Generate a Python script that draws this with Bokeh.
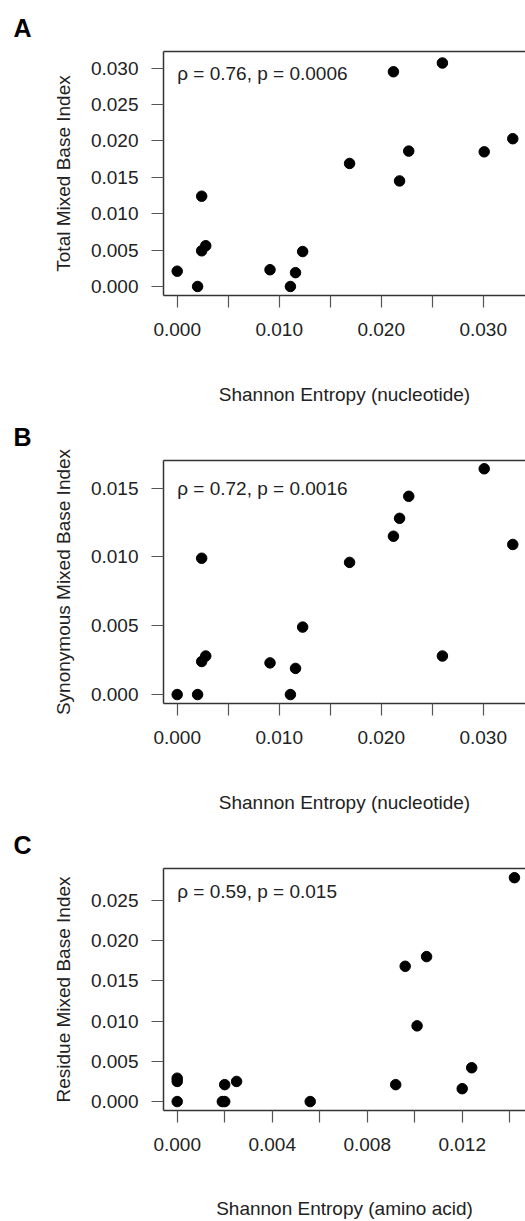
from bokeh.plotting import figure
from bokeh.layouts import column
from bokeh.models import (FixedTicker, PrintfTickFormatter, LinearAxis, Label,
                          Range1d, ColumnDataSource)
from bokeh.embed import file_html
from bokeh.resources import INLINE

# ---------------- data ----------------
entropy_nt = [0.0000, 0.0020, 0.0024, 0.0024, 0.0028, 0.0091, 0.0111, 0.0116,
              0.0123, 0.0169, 0.0212, 0.0218, 0.0227, 0.0260, 0.0301, 0.0329]
total_mbi = [0.0021, 0.0000, 0.0124, 0.0049, 0.0056, 0.0023, 0.0000, 0.0019,
             0.0048, 0.0169, 0.0295, 0.0145, 0.0186, 0.0307, 0.0185, 0.0203]
synon_mbi = [0.0000, 0.0000, 0.0099, 0.0024, 0.0028, 0.0023, 0.0000, 0.0019,
             0.0049, 0.0096, 0.0115, 0.0128, 0.0144, 0.0028, 0.0164, 0.0109]

entropy_aa = [0.0000, 0.0000, 0.0000, 0.0019, 0.0020, 0.0020, 0.0025, 0.0056,
              0.0092, 0.0096, 0.0101, 0.0105, 0.0120, 0.0124, 0.0142]
residue_mbi = [0.0029, 0.0025, 0.0000, 0.0000, 0.0000, 0.0021, 0.0025, 0.0000,
               0.0021, 0.0168, 0.0094, 0.0180, 0.0016, 0.0042, 0.0278]

x_ticks_nt = [0.000, 0.010, 0.020, 0.030]
x_minor_nt = [0.005, 0.015, 0.025, 0.035]
x_ticks_aa = [0.000, 0.004, 0.008, 0.012]
x_minor_aa = [0.002, 0.006, 0.010, 0.014]
y_ticks_a = [0.000, 0.005, 0.010, 0.015, 0.020, 0.025, 0.030]
y_ticks_b = [0.000, 0.005, 0.010, 0.015]
y_ticks_c = [0.000, 0.005, 0.010, 0.015, 0.020, 0.025]

stats = ["\u03c1 = 0.76, p = 0.0006", "\u03c1 = 0.72, p = 0.0016", "\u03c1 = 0.59, p = 0.015"]
letters = ["A", "B", "C"]
ylabels = ["Total Mixed Base Index", "Synonymous Mixed Base Index", "Residue Mixed Base Index"]
xlabels = ["Shannon Entropy (nucleotide)", "Shannon Entropy (nucleotide)", "Shannon Entropy (amino acid)"]

FONT = "Liberation Sans"
TXT = "#222222"
BOX = "#333333"
TICK = "#555555"


def panel(xv, yv, xr, yr, xmaj, xmin, ymaj, xlab, ylab, stat, stat_y, letter,
          height, mb_top, mb_bottom, xlab_standoff):
    p = figure(width=525, height=height, x_range=Range1d(*xr), y_range=Range1d(*yr),
               output_backend="svg", toolbar_location=None,
               min_border_left=163, min_border_right=0, min_border_top=mb_top,
               min_border_bottom=mb_bottom)
    p.grid.visible = False
    p.outline_line_color = None
    p.background_fill_color = "white"
    p.border_fill_color = "white"

    p.title.text = letter
    p.title.align = "left"
    p.title.offset = -150
    p.title.standoff = 20
    p.title.text_font = FONT
    p.title.text_font_size = "25px"
    p.title.text_font_style = "bold"
    p.title.text_color = "black"

    xa = p.xaxis[0]
    xa.ticker = FixedTicker(ticks=xmaj, minor_ticks=xmin)
    xa.formatter = PrintfTickFormatter(format="%.3f")
    ya = p.yaxis[0]
    ya.ticker = FixedTicker(ticks=ymaj, minor_ticks=[])
    ya.formatter = PrintfTickFormatter(format="%.3f")
    for ax in (xa, ya):
        ax.axis_line_color = BOX
        ax.axis_line_width = 1.5
        ax.major_tick_in = 0
        ax.major_tick_out = 12
        ax.minor_tick_in = 0
        ax.minor_tick_out = 12
        ax.major_tick_line_color = TICK
        ax.minor_tick_line_color = TICK
        ax.major_tick_line_width = 1.2
        ax.minor_tick_line_width = 1.2
        ax.major_label_text_font = FONT
        ax.major_label_text_font_size = "19px"
        ax.major_label_text_color = TXT
        ax.axis_label_text_font = FONT
        ax.axis_label_text_font_size = "19px"
        ax.axis_label_text_font_style = "normal"
        ax.axis_label_text_color = TXT
    xa.axis_label = xlab
    ya.axis_label = ylab
    xa.major_label_standoff = 15
    xa.axis_label_standoff = xlab_standoff
    ya.major_label_standoff = 13
    ya.axis_label_standoff = 14

    top = LinearAxis(ticker=FixedTicker(ticks=[]), major_tick_out=0, major_tick_in=0,
                     minor_tick_out=0, minor_tick_in=0, axis_line_color=BOX,
                     axis_line_width=1.5, major_label_text_font_size="0px")
    p.add_layout(top, "above")

    src = ColumnDataSource(dict(x=xv, y=yv))
    p.scatter(x="x", y="y", source=src, size=10.5, color="black", line_color="black")

    p.add_layout(Label(x=0, y=stat_y, text=stat, text_font=FONT, text_font_size="19px",
                       text_color=TXT, text_baseline="middle", text_align="left"))
    return p


pa = panel(entropy_nt, total_mbi, (-0.001343, 0.034147), (-0.00124, 0.03228),
           x_ticks_nt, x_minor_nt, y_ticks_a, xlabels[0], ylabels[0], stats[0], 0.0293,
           letters[0], 409, 51, 114, 45)
pb = panel(entropy_nt, synon_mbi, (-0.001343, 0.034147), (-0.00065, 0.0170),
           x_ticks_nt, x_minor_nt, y_ticks_b, xlabels[1], ylabels[1], stats[1], 0.0150,
           letters[1], 408, 51, 114, 45)
pc = panel(entropy_aa, residue_mbi, (-0.000577, 0.014665), (-0.00111, 0.02894),
           x_ticks_aa, x_minor_aa, y_ticks_c, xlabels[2], ylabels[2], stats[2], 0.0261,
           letters[2], 404, 51, 109, 44)

layout = column(pa, pb, pc, spacing=0)
open("out.html", "w").write(file_html(layout, INLINE))
